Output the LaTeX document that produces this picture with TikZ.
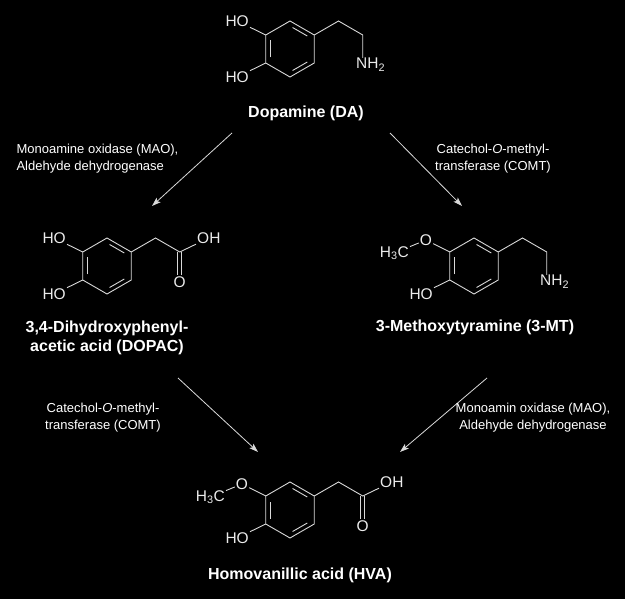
\documentclass[tikz,border=0pt]{standalone}
\usepackage{fontspec}
\setmainfont{Liberation Sans}
\usetikzlibrary{arrows.meta}
\begin{document}
\begin{tikzpicture}[x=1pt,y=-1pt,
  bond/.style={draw=white!85!black,line width=0.9pt},
  atom/.style={text=white!92!black,font=\fontsize{15.5}{17}\selectfont,inner sep=1pt},
  title/.style={text=white,font=\bfseries\fontsize{16}{19}\selectfont,align=center},
  enz/.style={text=white,font=\fontsize{13}{17}\selectfont,align=center},
  rxn/.style={draw=white!85!black,line width=0.8pt,-{Stealth[length=9pt,width=6pt,inset=2pt]}},
  ring/.pic={
    \draw[bond] (0,-28) coordinate(-t) -- (24.25,-14) coordinate(-ur) -- (24.25,14) coordinate(-lr) -- (0,28) coordinate(-b) -- (-24.25,14) coordinate(-ll) -- (-24.25,-14) coordinate(-ul) -- cycle;
    \draw[bond,shorten <=3pt,shorten >=3pt] (0,-23) -- (19.9,-11.5);
    \draw[bond,shorten <=3pt,shorten >=3pt] (19.9,11.5) -- (0,23);
    \draw[bond,shorten <=3pt,shorten >=3pt] (-19.9,11.5) -- (-19.9,-11.5);
  }]
\fill[black] (0,0) rectangle (625,599);
\useasboundingbox (0,0) rectangle (625,599);

% Dopamine
\pic (da) at (290,49) {ring};
\node[atom,anchor=east] (daO1) at (250,21) {HO};
\node[atom,anchor=east] (daO2) at (250,77) {HO};
\draw[bond] (da-ul) -- (daO1);
\draw[bond] (da-ll) -- (daO2);
\coordinate (daC1) at (338.5,21);
\coordinate (daC2) at (362.75,35);
\node[atom,anchor=north west] (daN) at (355,57) {NH\textsubscript{2}};
\draw[bond] (da-ur) -- (daC1) -- (daC2) -- (362.75,58);
\node[title] (daT) at (306,113) {Dopamine (DA)};

% DOPAC
\pic (dp) at (107,266) {ring};
\node[atom,anchor=east] (dpO1) at (67,238) {HO};
\node[atom,anchor=east] (dpO2) at (67,294) {HO};
\draw[bond] (dp-ul) -- (dpO1);
\draw[bond] (dp-ll) -- (dpO2);
\coordinate (dpC1) at (155.5,238);
\coordinate (dpC2) at (179.75,252);
\node[atom,anchor=west] (dpOH) at (196,238) {OH};
\node[atom] (dpO) at (179.75,282) {O};
\draw[bond] (dp-ur) -- (dpC1) -- (dpC2) -- (dpOH);
\draw[bond] ([xshift=-2pt]dpC2) -- ([xshift=-2pt]dpO.north);
\draw[bond] ([xshift=2pt]dpC2) -- ([xshift=2pt]dpO.north);
\node[title] (dpT) at (107,338) {3,4-Dihydroxyphenyl-\\acetic acid (DOPAC)};

% 3-MT
\pic (mt) at (474,266) {ring};
\node[atom] (mtO) at (426,240) {O};
\node[atom,anchor=east] (mtMe) at (410,253) {H\textsubscript{3}C};
\node[atom,anchor=east] (mtOH) at (434,294) {HO};
\draw[bond] (mt-ul) -- (mtO) -- (mtMe);
\draw[bond] (mt-ll) -- (mtOH);
\coordinate (mtC1) at (522.5,238);
\coordinate (mtC2) at (546.75,252);
\node[atom,anchor=north west] (mtN) at (539,274) {NH\textsubscript{2}};
\draw[bond] (mt-ur) -- (mtC1) -- (mtC2) -- (546.75,275);
\node[title] (mtT) at (475,327) {3-Methoxytyramine (3-MT)};

% HVA
\pic (hv) at (290,510) {ring};
\node[atom] (hvO) at (242,484) {O};
\node[atom,anchor=east] (hvMe) at (226,497) {H\textsubscript{3}C};
\node[atom,anchor=east] (hvOH) at (250,538) {HO};
\draw[bond] (hv-ul) -- (hvO) -- (hvMe);
\draw[bond] (hv-ll) -- (hvOH);
\coordinate (hvC1) at (338.5,482);
\coordinate (hvC2) at (362.75,496);
\node[atom,anchor=west] (hvOH2) at (379,482) {OH};
\node[atom] (hvO2) at (362.75,526) {O};
\draw[bond] (hv-ur) -- (hvC1) -- (hvC2) -- (hvOH2);
\draw[bond] ([xshift=-2pt]hvC2) -- ([xshift=-2pt]hvO2.north);
\draw[bond] ([xshift=2pt]hvC2) -- ([xshift=2pt]hvO2.north);
\node[title] (hvT) at (300,575) {Homovanillic acid (HVA)};

% reaction arrows
\coordinate (a1s) at (232,133); \coordinate (a1e) at (152,206);
\coordinate (a2s) at (390,133); \coordinate (a2e) at (462,206);
\coordinate (a3s) at (178,378); \coordinate (a3e) at (258,452);
\coordinate (a4s) at (487,378); \coordinate (a4e) at (400,452);
\draw[rxn] (a1s) -- (a1e);
\draw[rxn] (a2s) -- (a2e);
\draw[rxn] (a3s) -- (a3e);
\draw[rxn] (a4s) -- (a4e);

\node[enz,align=left,anchor=west] (e1) at (13,159) {Monoamine oxidase (MAO),\\Aldehyde dehydrogenase};
\node[enz] (e2) at (493,159) {Catechol-\textit{O}-methyl-\\transferase (COMT)};
\node[enz] (e3) at (103,418) {Catechol-\textit{O}-methyl-\\transferase (COMT)};
\node[enz] (e4) at (533,418) {Monoamin oxidase (MAO),\\Aldehyde dehydrogenase};
\end{tikzpicture}
\end{document}
